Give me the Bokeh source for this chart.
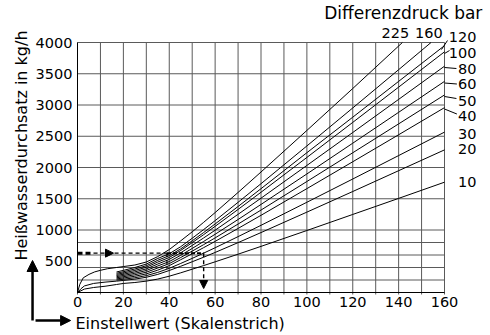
import math
from bokeh.plotting import figure
from bokeh.models import Arrow, NormalHead, Range1d
from bokeh.core.properties import value
from bokeh.embed import file_html
from bokeh.resources import INLINE

# ---------------- data ----------------
pressures = ["10", "20", "30", "40", "50", "60", "80", "100", "120", "160", "225"]

x_common = [17, 20, 25, 30, 35, 40, 45, 50, 55, 60, 70, 80, 100, 120, 140, 160]

q_10 = [128, 145, 160, 182, 215, 261, 315, 373, 431, 491, 613, 738, 992, 1249, 1506, 1765]
q_20 = [182, 193, 214, 244, 290, 352, 420, 492, 565, 641, 798, 959, 1286, 1616, 1949, 2282]
q_30 = [200, 212, 236, 270, 322, 387, 465, 546, 630, 716, 894, 1075, 1444, 1816, 2191, 2566]
q_40 = [218, 232, 260, 298, 358, 430, 525, 620, 718, 818, 1025, 1235, 1662, 2092, 2524, 2958]
q_50 = [236, 252, 284, 325, 392, 463, 560, 662, 766, 874, 1095, 1319, 1776, 2236, 2698, 3161]
q_60 = [254, 272, 307, 352, 425, 495, 596, 705, 817, 932, 1168, 1409, 1897, 2389, 2883, 3378]
q_80 = [272, 292, 330, 378, 456, 530, 635, 753, 873, 997, 1251, 1509, 2033, 2560, 3090, 3621]
q_100 = [290, 312, 353, 404, 487, 560, 673, 798, 926, 1059, 1329, 1604, 2161, 2722, 3286, 3851]
q_120 = [308, 332, 376, 428, 515, 590, 698, 827, 960, 1097, 1376, 1661, 2237, 2805, 3378, 3950]
q_160 = [328, 354, 400, 455, 545, 620, 733, 868, 1007, 1150, 1443, 1741, 2345, 2953, 3565, 4181]
q_225 = [400, 415, 440, 488, 575, 687, 827, 971, 1123, 1279, 1601, 1928, 2593, 3264, 3944, 4624]

# low-range parts of the curves that start at the origin
x_start_10 = [0, 3, 7, 12]
q_start_10 = [0, 55, 80, 100]
x_start_20 = [0, 1.5, 3, 7, 12]
q_start_20 = [0, 60, 105, 145, 166]
x_start_225 = [0, 1, 2.5, 5, 7.5, 10, 13]
q_start_225 = [0, 130, 235, 290, 330, 355, 380]

# reading example
example_flow = 630
example_setting = 55
example_first_cross = 39
example_first_low = 380

x_ticks = [0, 20, 40, 60, 80, 100, 120, 140, 160]
x_grid = [0, 10, 20, 30, 40, 50, 60, 70, 80, 90, 100, 110, 120, 130, 140, 150, 160]
y_ticks = [500, 1000, 1500, 2000, 2500, 3000, 3500, 4000]
y_grid = [0, 200, 400, 600, 800, 1000, 1500, 2000, 2500, 3000, 3500, 4000]

FONT = "DejaVu Sans"
W, H = 486, 333
X0_PX, X160_PX = 77.0, 444.0
Y0_PX, Y4000_PX = 292.0, 42.0
sx = (X160_PX - X0_PX) / 160.0
sy = (Y0_PX - Y4000_PX) / 4000.0

# ---------------- figure (frame fills the canvas) ----------------
p = figure(width=W, height=H,
           x_range=Range1d(-X0_PX / sx, (W - X0_PX) / sx),
           y_range=Range1d(-(H - Y0_PX) / sy, Y0_PX / sy),
           output_backend="svg", toolbar_location=None, title=None,
           x_axis_location=None, y_axis_location=None,
           min_border_left=0, min_border_right=0, min_border_top=0, min_border_bottom=0)
p.outline_line_color = None
p.background_fill_color = "white"
p.border_fill_color = "white"
p.xgrid.visible = False
p.ygrid.visible = False

GRID = "#5a5a5a"
# grid
p.segment(x0=x_grid, y0=[-2 / sy] * len(x_grid), x1=x_grid, y1=[4000] * len(x_grid),
          line_color=GRID, line_width=1)
p.segment(x0=[0] * len(y_grid), y0=y_grid, x1=[160] * len(y_grid), y1=y_grid,
          line_color=GRID, line_width=1)
# axis lines
p.segment(x0=[0, 0], y0=[0, 0], x1=[0, 160], y1=[4000, 0], line_color="black", line_width=1)

# tick labels
p.text(x=x_ticks, y=[0] * len(x_ticks), text=[str(v) for v in x_ticks],
       text_font=value(FONT), text_font_size=value("14.5px"), text_color="black",
       text_align="center", text_baseline="top", y_offset=4)
p.text(x=[0] * len(y_ticks), y=y_ticks, text=[str(v) for v in y_ticks],
       text_font=value(FONT), text_font_size=value("14.5px"), text_color="black",
       text_align="right", text_baseline="middle", x_offset=-5)

# ---------------- curves ----------------
curves = [
    (x_start_10 + x_common, q_start_10 + q_10),
    (x_start_20 + x_common, q_start_20 + q_20),
    (x_common, q_30), (x_common, q_40), (x_common, q_50), (x_common, q_60),
    (x_common, q_80), (x_common, q_100), (x_common, q_120), (x_common, q_160),
    (x_start_225 + x_common, q_start_225 + q_225),
]
for xs, ys in curves:
    # stop at the 4000 edge of the diagram
    cx, cy = [], []
    for i, (a, b) in enumerate(zip(xs, ys)):
        if b <= 4000:
            cx.append(a); cy.append(b)
        else:
            a0, b0 = xs[i - 1], ys[i - 1]
            if b0 <= 4000:
                cx.append(a0 + (4000 - b0) * (a - a0) / (b - b0)); cy.append(4000)
            break
    p.line(cx, cy, line_color="black", line_width=1.0)

# ---------------- reading example (dashed) ----------------
p.line([0, 7], [example_flow, example_flow], line_color="black", line_width=3, line_dash="5 3")
p.line([7, example_first_cross], [example_flow, example_flow], line_color="black", line_width=1.2, line_dash="4 3")
p.line([example_first_cross, example_setting], [example_flow, example_flow], line_color="black", line_width=2, line_dash="4 2")
p.line([example_setting, example_setting], [example_flow, 80], line_color="black", line_width=1.4, line_dash="4 3")
p.line([example_first_cross, example_first_cross], [example_flow, example_first_low], line_color="black", line_width=1.2, line_dash="4 3")
p.add_layout(Arrow(end=NormalHead(size=8, fill_color="black", line_color="black"),
                   x_start=10, y_start=example_flow, x_end=15.7, y_end=example_flow, line_alpha=0))
p.add_layout(Arrow(end=NormalHead(size=8, fill_color="black", line_color="black"),
                   x_start=example_setting, y_start=200, x_end=example_setting, y_end=64, line_alpha=0))

# ---------------- pressure labels on the right ----------------
label_names = ["10", "20", "30", "40", "50", "60", "80", "100", "120"]
label_y = [1776, 2304, 2544, 2824, 3072, 3344, 3584, 3840, 4096]
p.text(x=[173.9] * len(label_names), y=label_y, text=label_names,
       text_font=value(FONT), text_font_size=value("14.5px"), text_color="black",
       text_align="right", text_baseline="middle")
p.text(x=[138.6, 153.2], y=[4152, 4152], text=["225", "160"],
       text_font=value(FONT), text_font_size=value("14.5px"), text_color="black",
       text_align="center", text_baseline="middle")

leader_x0 = [161.3, 160.0, 160.0, 160.0, 160.0, 160.0]
leader_y0 = [4032, 3824, 3600, 3352, 3136, 2936]
leader_x1 = [158.7, 162.2, 165.2, 165.4, 165.2, 165.4]
leader_y1 = [3888, 3872, 3584, 3336, 3104, 2856]
p.segment(x0=leader_x0, y0=leader_y0, x1=leader_x1, y1=leader_y1, line_color="black", line_width=1)

p.text(x=[176.5], y=[4472], text=["Differenzdruck bar"], text_font=value(FONT),
       text_font_size=value("17px"), text_color="black", text_align="right", text_baseline="middle")

# ---------------- axis titles ----------------
p.text(x=[-24.2], y=[2352], text=["Heißwasserdurchsatz in kg/h"], text_font=value(FONT),
       text_font_size=value("16px"), text_color="black", text_align="center",
       text_baseline="middle", angle=math.pi / 2)
p.text(x=[-0.9], y=[-496], text=["Einstellwert (Skalenstrich)"], text_font=value(FONT),
       text_font_size=value("16px"), text_color="black", text_align="left", text_baseline="middle")

# big direction arrows, bottom left
p.add_layout(Arrow(end=NormalHead(size=11, fill_color="black", line_color="black"),
                   x_start=-19.6, y_start=-448, x_end=-19.6, y_end=512,
                   line_color="black", line_width=2.5))
p.add_layout(Arrow(end=NormalHead(size=10, fill_color="black", line_color="black"),
                   x_start=-18.3, y_start=-448, x_end=-3.0, y_end=-448,
                   line_color="black", line_width=2.5))

open("out.html", "w").write(file_html(p, INLINE))
